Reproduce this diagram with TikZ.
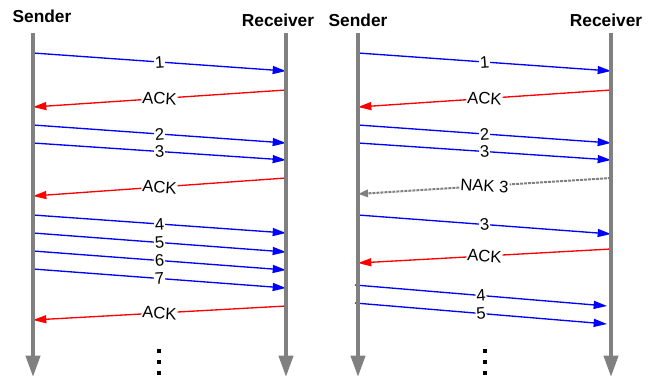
\documentclass[tikz,border=0pt]{standalone}
\usepackage{fontspec}
\setmainfont{Liberation Sans}
\usetikzlibrary{arrows.meta}

\definecolor{lifegray}{RGB}{128,128,128}
\definecolor{datablue}{RGB}{0,0,255}
\definecolor{ackred}{RGB}{255,0,0}

\tikzset{every picture/.style={line width=0.75pt}}
\tikzset{
	lifeline/.style={draw=lifegray, line width=3pt, -{Triangle[width=10.5pt,length=16pt]}},
	datamsg/.style={draw=datablue, line width=1pt, -{Triangle[width=6pt,length=10pt]}},
	ackmsg/.style={draw=ackred, line width=1pt, -{Triangle[width=6pt,length=10pt]}},
	nakmsg/.style={draw=lifegray, line width=1.5pt, dash pattern=on 2.25pt off 0.75pt, -{Triangle[width=5.5pt,length=7.5pt]}},
	msglabel/.style={fill=white, inner sep=0.6pt, sloped, font=\fontsize{12.5}{14}\selectfont},
	headlabel/.style={inner sep=0pt, font=\fontsize{13}{15}\selectfont\bfseries}
}

\begin{document}
\begin{tikzpicture}[x=0.75pt,y=0.75pt,yscale=-1,xscale=1]
	\useasboundingbox (0,0) rectangle (656,378);

	% Text Node
	\node[headlabel] (sndA) at (42,16) {Sender};
	% Text Node
	\node[headlabel] (rcvA) at (278,20) {Receiver};
	% Text Node
	\node[headlabel] (sndB) at (358,20) {Sender};
	% Text Node
	\node[headlabel] (rcvB) at (606,20) {Receiver};

	%Lifeline ends
	\coordinate (sndA top) at (33,33);   \coordinate (sndA bot) at (33,377);
	\coordinate (rcvA top) at (286,33);  \coordinate (rcvA bot) at (286,377);
	\coordinate (sndB top) at (358,33);  \coordinate (sndB bot) at (358,377);
	\coordinate (rcvB top) at (611,33);  \coordinate (rcvB bot) at (611,377);

	%Message ends, left panel
	\coordinate (a1s) at (33,53);   \coordinate (a1r) at (286,71);
	\coordinate (a2r) at (286,90);  \coordinate (a2s) at (33,107);
	\coordinate (a3s) at (33,125);  \coordinate (a3r) at (286,143);
	\coordinate (a4s) at (33,143);  \coordinate (a4r) at (286,160);
	\coordinate (a5r) at (286,178); \coordinate (a5s) at (33,196);
	\coordinate (a6s) at (33,215);  \coordinate (a6r) at (286,233);
	\coordinate (a7s) at (33,233);  \coordinate (a7r) at (286,252);
	\coordinate (a8s) at (33,251);  \coordinate (a8r) at (286,270);
	\coordinate (a9s) at (33,269);  \coordinate (a9r) at (286,288);
	\coordinate (a10r) at (286,306); \coordinate (a10s) at (33,320);

	%Message ends, right panel
	\coordinate (b1s) at (358,53);  \coordinate (b1r) at (611,71);
	\coordinate (b2r) at (611,90);  \coordinate (b2s) at (358,107);
	\coordinate (b3s) at (358,125); \coordinate (b3r) at (611,143);
	\coordinate (b4s) at (358,143); \coordinate (b4r) at (611,160);
	\coordinate (b5r) at (611,178); \coordinate (b5s) at (358,194);
	\coordinate (b6s) at (358,215); \coordinate (b6r) at (611,234);
	\coordinate (b7r) at (611,249); \coordinate (b7s) at (358,263);
	\coordinate (b8s) at (355,285); \coordinate (b8r) at (607,306);
	\coordinate (b9s) at (355,303); \coordinate (b9r) at (607,324);

	%Straight Lines
	\draw[datamsg] (a1s) -- node[msglabel] {1} (a1r);
	\draw[ackmsg] (a2r) -- node[msglabel] {ACK} (a2s);
	\draw[datamsg] (a3s) -- node[msglabel] {2} (a3r);
	\draw[datamsg] (a4s) -- node[msglabel] {3} (a4r);
	\draw[ackmsg] (a5r) -- node[msglabel] {ACK} (a5s);
	\draw[datamsg] (a6s) -- node[msglabel] {4} (a6r);
	\draw[datamsg] (a7s) -- node[msglabel] {5} (a7r);
	\draw[datamsg] (a8s) -- node[msglabel] {6} (a8r);
	\draw[datamsg] (a9s) -- node[msglabel] {7} (a9r);
	\draw[ackmsg] (a10r) -- node[msglabel] {ACK} (a10s);

	%Straight Lines
	\draw[datamsg] (b1s) -- node[msglabel] {1} (b1r);
	\draw[ackmsg] (b2r) -- node[msglabel] {ACK} (b2s);
	\draw[datamsg] (b3s) -- node[msglabel] {2} (b3r);
	\draw[datamsg] (b4s) -- node[msglabel] {3} (b4r);
	\draw[nakmsg] (b5r) -- node[msglabel] {NAK 3} (b5s);
	\draw[datamsg] (b6s) -- node[msglabel] {3} (b6r);
	\draw[ackmsg] (b7r) -- node[msglabel] {ACK} (b7s);
	\draw[datamsg] (b8s) -- node[msglabel] {4} (b8r);
	\draw[datamsg] (b9s) -- node[msglabel] {5} (b9r);

	%Shape: Axis
	\draw[lifeline] (sndA top) -- (sndA bot);
	\draw[lifeline] (rcvA top) -- (rcvA bot);
	\draw[lifeline] (sndB top) -- (sndB bot);
	\draw[lifeline] (rcvB top) -- (rcvB bot);

	%Shape: Dots
	\fill (157,349) rectangle ++(4,4);
	\fill (157,360) rectangle ++(4,4);
	\fill (157,371) rectangle ++(4,4);
	\fill (483,349) rectangle ++(4,4);
	\fill (483,360) rectangle ++(4,4);
	\fill (483,371) rectangle ++(4,4);

\end{tikzpicture}
\end{document}
